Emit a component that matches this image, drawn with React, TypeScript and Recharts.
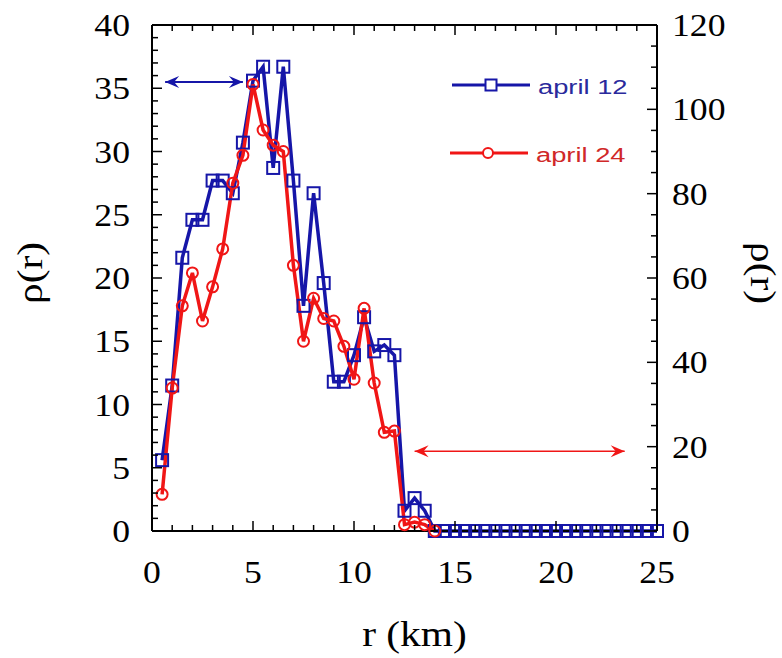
import { LineChart, Line, XAxis, YAxis, ReferenceLine } from 'recharts'

// r (km), one point every 0.5 km
const R_KM = [
  0.5, 1, 1.5, 2, 2.5, 3, 3.5, 4, 4.5, 5, 5.5, 6, 6.5, 7, 7.5, 8, 8.5, 9, 9.5, 10,
  10.5, 11, 11.5, 12, 12.5, 13, 13.5, 14, 14.5, 15, 15.5, 16, 16.5, 17, 17.5, 18,
  18.5, 19, 19.5, 20, 20.5, 21, 21.5, 22, 22.5, 23, 23.5, 24, 24.5, 25,
]

const APRIL_12 = [
  5.6, 11.5, 21.6, 24.6, 24.6, 27.7, 27.7, 26.7, 30.7, 35.6, 36.7, 28.7, 36.7, 27.7,
  17.8, 26.7, 19.6, 11.8, 11.8, 13.9, 16.9, 14.2, 14.7, 13.9, 1.6, 2.6, 1.6, 0,
  0, 0, 0, 0, 0, 0, 0, 0, 0, 0, 0, 0, 0, 0, 0, 0, 0, 0, 0, 0, 0, 0,
]

const APRIL_24 = [
  2.9, 11.3, 17.8, 20.4, 16.6, 19.3, 22.3, 27.5, 29.7, 35.3, 31.7, 30.5, 30.0, 21.0,
  15.0, 18.4, 16.8, 16.6, 14.6, 12.0, 17.6, 11.7, 7.8, 7.9, 0.5, 0.7, 0.5, 0,
]

const X_TICKS = Array.from({ length: 26 }, (_, i) => i)
const LEFT_TICKS = Array.from({ length: 41 }, (_, i) => i)
const RIGHT_TICKS = Array.from({ length: 25 }, (_, i) => i * 5)

const BLUE = '#1616a8'
const RED = '#f01616'
const SERIF = '"Liberation Serif", "Times New Roman", serif'
const SANS = '"Liberation Sans", Arial, sans-serif'
const STRETCH = 1.15

const data = R_KM.map((r, i) => ({
  r,
  a12: APRIL_12[i],
  a24: i < APRIL_24.length ? APRIL_24[i] : undefined,
}))

const BottomTick = ({ x, y, payload }: any) => {
  const major = payload.value % 5 === 0
  return (
    <g>
      <line x1={x} y1={y} x2={x} y2={y - (major ? 10 : 6)} stroke="#000" strokeWidth={1.5} />
      {major && (
        <text
          transform={`translate(${x},${y + 52}) scale(${STRETCH},1)`}
          textAnchor="middle"
          fontSize={31}
          fontFamily={SERIF}
          fill="#000"
        >
          {payload.value}
        </text>
      )}
    </g>
  )
}

const TopTick = ({ x, y, payload }: any) => {
  const major = payload.value % 5 === 0
  return <line x1={x} y1={y} x2={x} y2={y + (major ? 10 : 6)} stroke="#000" strokeWidth={1.5} />
}

const LeftTick = ({ x, y, payload }: any) => {
  const major = payload.value % 5 === 0
  return (
    <g>
      <line x1={x} y1={y} x2={x + (major ? 10 : 6)} y2={y} stroke="#000" strokeWidth={1.5} />
      {major && (
        <text
          transform={`translate(${x - 22},${y + 11}) scale(${STRETCH},1)`}
          textAnchor="end"
          fontSize={31}
          fontFamily={SERIF}
          fill="#000"
        >
          {payload.value}
        </text>
      )}
    </g>
  )
}

const RightTick = ({ x, y, payload }: any) => {
  const major = payload.value % 20 === 0
  return (
    <g>
      <line x1={x} y1={y} x2={x - (major ? 10 : 6)} y2={y} stroke="#000" strokeWidth={1.5} />
      {major && (
        <text
          transform={`translate(${x + 15},${y + 11}) scale(${STRETCH},1)`}
          textAnchor="start"
          fontSize={31}
          fontFamily={SERIF}
          fill="#000"
        >
          {payload.value}
        </text>
      )}
    </g>
  )
}

const SquareDot = ({ cx, cy }: any) => {
  if (cx == null || cy == null) return null
  return <rect x={cx - 6} y={cy - 6} width={12} height={12} fill="none" stroke={BLUE} strokeWidth={2} />
}

const arrowShape = (color: string, width: number) => (props: any) => {
  const { x1, y1, x2, y2 } = props
  if (x1 == null) return null
  const head = (tipX: number, dir: number) => {
    const len = 14
    const half = 6
    const notch = 9
    return (
      <polygon
        points={`${tipX},${y1} ${tipX + dir * len},${y1 - half} ${tipX + dir * notch},${y1} ${tipX + dir * len},${y1 + half}`}
        fill={color}
      />
    )
  }
  return (
    <g>
      <line x1={x1} y1={y1} x2={x2} y2={y2} stroke={color} strokeWidth={width} />
      {head(x1, 1)}
      {head(x2, -1)}
    </g>
  )
}

export default function App() {
  return (
    <div style={{ position: 'absolute', left: 0, top: 0, width: 782, height: 658, background: '#fff' }}>
      <LineChart width={782} height={658} data={data} margin={{ top: 0, right: 0, bottom: 0, left: 0 }}>
        <XAxis
          xAxisId="bottom"
          dataKey="r"
          type="number"
          domain={[0, 25]}
          ticks={X_TICKS}
          interval={0}
          height={127}
          tickSize={0}
          tickMargin={0}
          tickLine={false}
          tick={<BottomTick />}
          axisLine={{ stroke: '#000', strokeWidth: 2 }}
          label={{
            content: ({ viewBox }: any) => (
              <text
                transform={`translate(${viewBox.x + viewBox.width / 2 + 10},${viewBox.y + 115}) scale(${STRETCH},1)`}
                textAnchor="middle"
                fontSize={36}
                fontFamily={SERIF}
                fill="#000"
              >
                r (km)
              </text>
            ),
          }}
        />
        <XAxis
          xAxisId="top"
          orientation="top"
          dataKey="r"
          type="number"
          domain={[0, 25]}
          ticks={X_TICKS}
          interval={0}
          height={25}
          tickSize={0}
          tickMargin={0}
          tickLine={false}
          tick={<TopTick />}
          axisLine={{ stroke: '#000', strokeWidth: 2 }}
        />
        <YAxis
          yAxisId="left"
          type="number"
          domain={[0, 40]}
          ticks={LEFT_TICKS}
          interval={0}
          width={152}
          tickSize={0}
          tickMargin={0}
          tickLine={false}
          tick={<LeftTick />}
          axisLine={{ stroke: '#000', strokeWidth: 2 }}
          label={{
            content: ({ viewBox }: any) => (
              <text
                transform={`translate(${viewBox.x + 42},${viewBox.y + viewBox.height / 2 - 5}) rotate(-90) scale(${STRETCH},1)`}
                textAnchor="middle"
                fontSize={36}
                fontFamily={SERIF}
                fill="#000"
              >
                ρ(r)
              </text>
            ),
          }}
        />
        <YAxis
          yAxisId="right"
          orientation="right"
          type="number"
          domain={[0, 120]}
          allowDataOverflow
          ticks={RIGHT_TICKS}
          interval={0}
          width={125}
          tickSize={0}
          tickMargin={0}
          tickLine={false}
          tick={<RightTick />}
          axisLine={{ stroke: '#000', strokeWidth: 2 }}
          label={{
            content: ({ viewBox }: any) => (
              <text
                transform={`translate(${viewBox.x + 94},${viewBox.y + viewBox.height / 2 - 5}) rotate(90) scale(${STRETCH},1)`}
                textAnchor="middle"
                fontSize={36}
                fontFamily={SERIF}
                fill="#000"
              >
                ρ(r)
              </text>
            ),
          }}
        />
        {/* invisible series so the right axis gets a scale and draws its ticks */}
        <Line
          xAxisId="bottom"
          yAxisId="right"
          dataKey="a12"
          stroke="none"
          dot={false}
          activeDot={false}
          legendType="none"
          isAnimationActive={false}
        />
        <Line
          xAxisId="bottom"
          yAxisId="left"
          type="linear"
          dataKey="a12"
          stroke={BLUE}
          strokeWidth={3.5}
          dot={<SquareDot />}
          isAnimationActive={false}
        />
        <Line
          xAxisId="bottom"
          yAxisId="left"
          type="linear"
          dataKey="a24"
          stroke={RED}
          strokeWidth={3.5}
          dot={{ r: 5.5, stroke: RED, strokeWidth: 2, fill: 'none' }}
          isAnimationActive={false}
        />
        <ReferenceLine
          xAxisId="bottom"
          yAxisId="left"
          segment={[{ x: 0.65, y: 35.5 }, { x: 4.5, y: 35.5 }]}
          shape={arrowShape(BLUE, 2)}
        />
        <ReferenceLine
          xAxisId="bottom"
          yAxisId="left"
          segment={[{ x: 13.0, y: 6.3 }, { x: 23.4, y: 6.3 }]}
          shape={arrowShape(RED, 1.5)}
        />
      </LineChart>
      <div style={{ position: 'absolute', left: 450, top: 68 }}>
        <svg width={200} height={110}>
          <line x1={2} y1={17} x2={80} y2={17} stroke={BLUE} strokeWidth={3} />
          <rect x={35.5} y={11.5} width={11} height={11} fill="#fff" stroke={BLUE} strokeWidth={2} />
          <text
            transform={`translate(88,26) scale(1.3,1)`}
            fontSize={21}
            fontFamily={SANS}
            fill="#2a2a9c"
          >
            april 12
          </text>
          <line x1={0} y1={85} x2={78} y2={85} stroke={RED} strokeWidth={3} />
          <circle cx={38} cy={85} r={5} fill="#fff" stroke={RED} strokeWidth={2} />
          <text
            transform={`translate(86,94) scale(1.3,1)`}
            fontSize={21}
            fontFamily={SANS}
            fill="#d02828"
          >
            april 24
          </text>
        </svg>
      </div>
    </div>
  )
}
